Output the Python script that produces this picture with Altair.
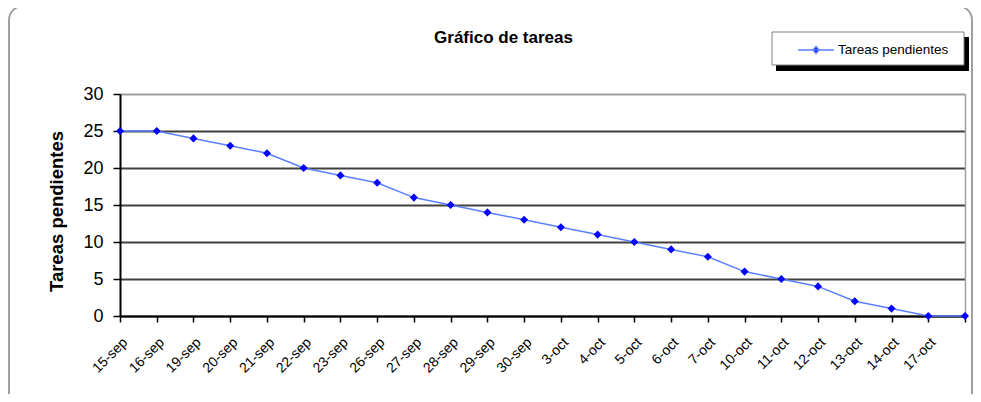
import json
import altair as alt
import pandas as pd

# ---- data ----
tick_labels = ["15-sep", "16-sep", "19-sep", "20-sep", "21-sep", "22-sep", "23-sep",
               "26-sep", "27-sep", "28-sep", "29-sep", "30-sep", "3-oct", "4-oct",
               "5-oct", "6-oct", "7-oct", "10-oct", "11-oct", "12-oct", "13-oct",
               "14-oct", "17-oct"]
pending = [25, 25, 24, 23, 22, 20, 19, 18, 16, 15, 14, 13, 12, 11, 10, 9, 8, 6, 5, 4, 2, 1, 0, 0]
series_name = "Tareas pendientes"
y_ticks = [0, 5, 10, 15, 20, 25, 30]
chart_title = "Gráfico de tareas"

df = pd.DataFrame({"idx": list(range(len(pending))), "tareas": pending, "serie": series_name})
one = pd.DataFrame({"k": [0]})

FONT = "Liberation Sans"
LINE_BLUE = "#5b7fff"
DOT_BLUE = "#0000ff"
n = len(pending)

label_expr = f"{json.dumps(tick_labels)}[datum.value] || ''"

x_enc = alt.X(
    "idx:Q",
    scale=alt.Scale(domain=[0, n - 1], nice=False, zero=False),
    axis=alt.Axis(
        values=list(range(n)), labelExpr=label_expr, labelAngle=-45,
        labelAlign="right", labelBaseline="top", labelFont=FONT, labelFontSize=14,
        labelColor="black", labelPadding=13, tickColor="black", tickSize=6,
        tickWidth=1.5, domainColor="black", domainWidth=2, grid=False, title=None,
        labelOverlap=False,
    ),
)

y_scale = alt.Scale(domain=[0, 30], nice=False)

line = alt.Chart(df).mark_line(strokeWidth=1.5).encode(
    x=x_enc,
    y=alt.Y(
        "tareas:Q", scale=y_scale,
        axis=alt.Axis(
            orient="left", values=y_ticks, labelFont=FONT, labelFontSize=18,
            labelColor="black", labelPadding=10, tickSize=7, tickColor="black",
            tickWidth=1.5, domainColor="black", domainWidth=2,
            gridColor={"condition": {"test": "datum.value == 30", "value": "#a0a0a0"},
                       "value": "#404040"},
            gridWidth=2, title=series_name, titleFont=FONT, titleFontSize=18.5,
            titleFontWeight="bold", titleColor="black", titleX=-64, titleY=117,
            titleAngle=270, titleAlign="center", titleBaseline="middle",
        ),
    ),
    color=alt.Color(
        "serie:N", scale=alt.Scale(range=[LINE_BLUE]),
        legend=alt.Legend(
            orient="none", legendX=677, legendY=-63, title=None, padding=0,
            symbolType="M-1,0L1,0M0,-0.19L0.17,0L0,0.19L-0.17,0Z",
            symbolSize=1296, symbolStrokeWidth=1.5, symbolStrokeColor=LINE_BLUE,
            symbolFillColor=DOT_BLUE, labelFont=FONT, labelFontSize=13.5,
            labelColor="black", labelOffset=3,
        ),
    ),
)

points = alt.Chart(df).mark_point(shape="diamond", filled=True, size=65, color=DOT_BLUE, opacity=1).encode(
    x=x_enc,
    y=alt.Y(
        "tareas:Q", scale=y_scale,
        axis=alt.Axis(orient="right", labels=False, ticks=False, grid=False,
                      domainColor="#a0a0a0", domainWidth=1.5, title=None),
    ),
)

frame = alt.Chart(one).mark_rect(fill="white", fillOpacity=0, stroke="#a0a0a0",
                                 strokeWidth=2, cornerRadius=14).encode(
    x=alt.value(-111), x2=alt.value(852), y=alt.value(-88), y2=alt.value(330))

shadow = alt.Chart(one).mark_rect(fill="black").encode(
    x=alt.value(656), x2=alt.value(849), y=alt.value(-57), y2=alt.value(-23))

legend_box = alt.Chart(one).mark_rect(fill="white", stroke="#808080", strokeWidth=1).encode(
    x=alt.value(652), x2=alt.value(844), y=alt.value(-62), y2=alt.value(-29))

chart = alt.layer(frame, shadow, legend_box, line, points).resolve_axis(
    y="independent"
).properties(
    width=845, height=222,
    autosize=alt.AutoSizeParams(type="none"),
    padding={"left": 112, "top": 86, "right": 8, "bottom": 78},
    title=alt.TitleParams(chart_title, font=FONT, fontSize=17, fontWeight="bold",
                          color="black", anchor="middle", dx=-39, offset=-55,
                          baseline="alphabetic", frame="group"),
).configure_view(stroke=None)

chart.save("out.html", embed_options={"renderer": "svg", "actions": False})
